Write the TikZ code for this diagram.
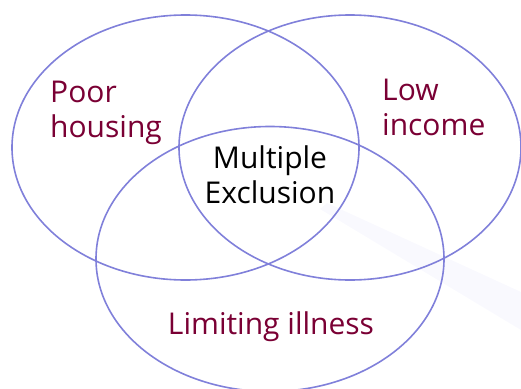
\documentclass[tikz,border=0pt]{standalone}
\usepackage{fontspec}
\setmainfont{Open Sans}
\usepackage{tikz}
\usetikzlibrary{positioning}
\definecolor{ringblue}{RGB}{128,128,218}
\definecolor{wine}{RGB}{122,0,52}
\definecolor{haze}{RGB}{249,249,254}

\begin{document}
\begin{tikzpicture}[x=1pt,y=-1pt,
		ring/.style={draw=ringblue,line width=1.6pt},
		lbl/.style={text=wine,align=left,font=\fontsize{30}{35}\selectfont,inner sep=0pt},
		core/.style={text=black,align=center,font=\fontsize{30}{35}\selectfont,inner sep=0pt}]
		\useasboundingbox (0,0) rectangle (521,388);
		\fill[haze] (320,209) -- (327,203) -- (521,292) -- (521,330) -- cycle;
		\draw[ring] (185.5,147.5) ellipse [x radius=173.5,y radius=132.5];
		\draw[ring] (350,147.5) ellipse [x radius=171,y radius=132.5];
		\draw[ring] (270,259) ellipse [x radius=174,y radius=132.5];
		\node(1) [lbl,anchor=base west] at (50,137) {Poor\\housing};
		\node(2) [lbl,anchor=base west] at (382,135) {Low\\income};
		\node(3) [core,anchor=base] at (270,203) {Multiple\\Exclusion};
		\node(4) [lbl,anchor=base] at (271,334) {Limiting illness};
	\end{tikzpicture}
\end{document}
